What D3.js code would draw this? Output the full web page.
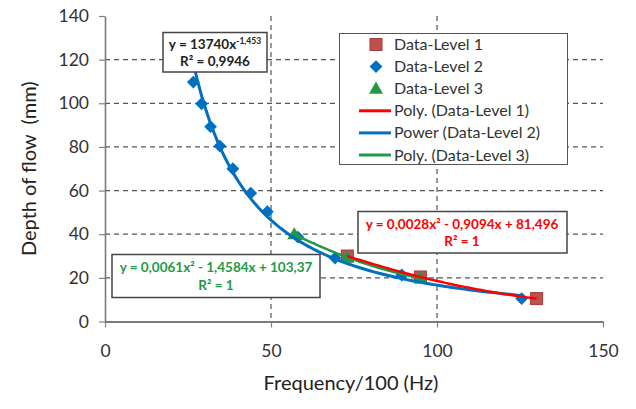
<!DOCTYPE html>
<html lang="en">
<head>
    <meta charset="UTF-8">
    <title>Depth of flow vs frequency</title>
    <style>
        body {
            margin: 0;
            background-color: white;
        }
        svg text {
            font-family: Lato, "Open Sans", sans-serif;
        }
    </style>
    <script src="https://d3js.org/d3.v7.min.js"></script>
</head>
<body>
    <svg id="chart" width="636" height="409"></svg>

    <script>
        // values
        const level1X = [73, 95, 130];
        const level1Y = [30, 20.4, 10.5];
        const level2X = [26.6, 29.1, 31.8, 34.6, 38.5, 43.9, 48.9, 58.1, 69.3, 89.4, 125.5];
        const level2Y = [109.7, 99.8, 89.3, 80.4, 70.0, 58.8, 50.3, 38.7, 29.1, 21.3, 10.5];
        const level3X = [57, 73, 95];
        const level3Y = [40, 29.4, 19.9];

        const xTicks = [0, 50, 100, 150];
        const yTicks = [0, 20, 40, 60, 80, 100, 120, 140];

        const legendLabels = ["Data-Level 1", "Data-Level 2", "Data-Level 3",
                              "Poly. (Data-Level 1)", "Power (Data-Level 2)", "Poly. (Data-Level 3)"];
        const eq1Lines = ["y = 0,0028x² - 0,9094x + 81,496", "R² = 1"];
        const eq2Base = "y = 13740x";
        const eq2Exp = "-1,453";
        const eq2R2 = "R² = 0,9946";
        const eq3Lines = ["y = 0,0061x² - 1,4584x + 103,37", "R² = 1"];

        const red = "#c0504d", blue = "#0070c0", green = "#1f9a48";

        const svg = d3.select("#chart");
        const plot = { left: 105, right: 603, top: 16, bottom: 321.5 };

        const x = d3.scaleLinear().domain([0, 150]).range([plot.left, plot.right]);
        const y = d3.scaleLinear().domain([0, 140]).range([plot.bottom, plot.top]);

        const zip = (xs, ys) => xs.map((v, i) => ({ x: v, y: ys[i] }));
        const pts1 = zip(level1X, level1Y);
        const pts2 = zip(level2X, level2Y);
        const pts3 = zip(level3X, level3Y);

        // trendlines: least squares fits of the data, like the spreadsheet does
        function polyFit(pts) {
            const s = [0, 0, 0, 0, 0], t = [0, 0, 0];
            pts.forEach(p => {
                for (let k = 0; k < 5; k++) s[k] += Math.pow(p.x, k);
                for (let k = 0; k < 3; k++) t[k] += Math.pow(p.x, k) * p.y;
            });
            const m = [[s[0], s[1], s[2], t[0]], [s[1], s[2], s[3], t[1]], [s[2], s[3], s[4], t[2]]];
            for (let i = 0; i < 3; i++) {
                for (let j = i + 1; j < 3; j++) {
                    const f = m[j][i] / m[i][i];
                    for (let k = i; k < 4; k++) m[j][k] -= f * m[i][k];
                }
            }
            const c = [0, 0, 0];
            for (let i = 2; i >= 0; i--) {
                let v = m[i][3];
                for (let k = i + 1; k < 3; k++) v -= m[i][k] * c[k];
                c[i] = v / m[i][i];
            }
            return v => c[0] + c[1] * v + c[2] * v * v;
        }

        function powerFit(pts) {
            const lx = pts.map(p => Math.log(p.x)), ly = pts.map(p => Math.log(p.y));
            const mx = d3.mean(lx), my = d3.mean(ly);
            const b = d3.sum(lx, (v, i) => (v - mx) * (ly[i] - my)) / d3.sum(lx, v => (v - mx) * (v - mx));
            const a = Math.exp(my - b * mx);
            return v => a * Math.pow(v, b);
        }

        function trend(pts, f) {
            const [lo, hi] = d3.extent(pts, p => p.x);
            return d3.range(0, 81).map(i => {
                const v = lo + (hi - lo) * i / 80;
                return { x: v, y: f(v) };
            });
        }

        // gridlines
        const grid = svg.append("g")
            .attr("stroke", "#555")
            .attr("stroke-width", 1.2)
            .attr("stroke-dasharray", "5,4");
        grid.selectAll("line.h")
            .data(yTicks.filter(d => d > 0 && d < 140))
            .enter().append("line")
            .attr("x1", plot.left).attr("x2", plot.right)
            .attr("y1", d => y(d)).attr("y2", d => y(d));
        grid.selectAll("line.v")
            .data(xTicks.filter(d => d > 0 && d < 150))
            .enter().append("line")
            .attr("x1", d => x(d)).attr("x2", d => x(d))
            .attr("y1", plot.top).attr("y2", plot.bottom);

        // axes
        const xAxis = svg.append("g")
            .attr("transform", `translate(0,${plot.bottom})`)
            .call(d3.axisBottom(x).tickValues(xTicks).tickSize(6).tickPadding(17).tickSizeOuter(0));
        const yAxis = svg.append("g")
            .attr("transform", `translate(${plot.left},0)`)
            .call(d3.axisLeft(y).tickValues(yTicks).tickSize(6).tickPadding(10).tickSizeOuter(0));

        [xAxis, yAxis].forEach(a => {
            a.selectAll("text").attr("font-size", 17.5).attr("fill", "#333")
                .style("font-family", "Lato, 'Open Sans', sans-serif");
            a.selectAll("line").attr("stroke", "#808080").attr("stroke-width", 1.2);
        });
        xAxis.select(".domain").attr("stroke", "#7a7a7a").attr("stroke-width", 2.2);
        yAxis.select(".domain").attr("stroke", "#7a7a7a").attr("stroke-width", 1.6);

        svg.append("text")
            .attr("x", (plot.left + plot.right) / 2 - 3)
            .attr("y", 390)
            .attr("text-anchor", "middle")
            .attr("font-size", 20)
            .attr("fill", "#222")
            .text("Frequency/100 (Hz)");

        svg.append("text")
            .attr("transform", `translate(36,${(plot.top + plot.bottom) / 2}) rotate(-90)`)
            .attr("text-anchor", "middle")
            .attr("font-size", 20)
            .attr("fill", "#222")
            .style("white-space", "pre")
            .text("Depth of flow  (mm)");

        // markers
        const diamond = d3.symbol().type(d3.symbolDiamond2).size(105);
        const triangle = d3.symbol().type(d3.symbolTriangle).size(85);

        svg.append("g").selectAll("path")
            .data(pts2).enter().append("path")
            .attr("d", diamond)
            .attr("transform", d => `translate(${x(d.x)},${y(d.y)})`)
            .attr("fill", blue);

        svg.append("g").selectAll("rect")
            .data(pts1).enter().append("rect")
            .attr("x", d => x(d.x) - 6).attr("y", d => y(d.y) - 6)
            .attr("width", 12).attr("height", 12)
            .attr("fill", red).attr("stroke", "#a33d3a").attr("stroke-width", 1);

        svg.append("g").selectAll("path")
            .data(pts3).enter().append("path")
            .attr("d", triangle)
            .attr("transform", d => `translate(${x(d.x)},${y(d.y) + 1})`)
            .attr("fill", green);

        // trendlines
        const line = d3.line().x(d => x(d.x)).y(d => y(d.y));
        svg.append("path").datum(trend(pts2, powerFit(pts2)))
            .attr("d", line).attr("fill", "none").attr("stroke", blue).attr("stroke-width", 3);
        svg.append("path").datum(trend(pts3, polyFit(pts3)))
            .attr("d", line).attr("fill", "none").attr("stroke", green).attr("stroke-width", 2.5);
        svg.append("path").datum(trend(pts1, polyFit(pts1)))
            .attr("d", line).attr("fill", "none").attr("stroke", "#ff0000").attr("stroke-width", 2.5);

        // legend
        const legend = svg.append("g");
        legend.append("rect")
            .attr("x", 339.5).attr("y", 33.5).attr("width", 228).attr("height", 131)
            .attr("fill", "white").attr("stroke", "#555").attr("stroke-width", 1);
        const ly = i => 44.5 + i * 22.1;
        legend.append("rect").attr("x", 370).attr("y", ly(0) - 6).attr("width", 12).attr("height", 12)
            .attr("fill", red).attr("stroke", "#a33d3a");
        legend.append("path").attr("d", diamond).attr("transform", `translate(376,${ly(1)})`).attr("fill", blue);
        legend.append("path").attr("d", triangle).attr("transform", `translate(376,${ly(2) + 1})`).attr("fill", green);
        [["#ff0000", 3], [blue, 4], [green, 5]].forEach(([c, i]) => {
            legend.append("line")
                .attr("x1", 359).attr("x2", 391).attr("y1", ly(i)).attr("y2", ly(i))
                .attr("stroke", c).attr("stroke-width", 3);
        });
        legend.selectAll("text")
            .data(legendLabels).enter().append("text")
            .attr("x", 394).attr("y", (d, i) => ly(i) + 5.5)
            .attr("font-size", 16).attr("fill", "#333")
            .text(d => d);

        // equation boxes
        function box(x0, y0, w, h) {
            svg.append("rect").attr("x", x0).attr("y", y0).attr("width", w).attr("height", h)
                .attr("fill", "white").attr("stroke", "#444").attr("stroke-width", 1.5);
        }

        box(163, 32.5, 104, 39.5);
        const t2 = svg.append("text").attr("x", 215).attr("y", 48.5).attr("text-anchor", "middle")
            .attr("font-size", 13.5).attr("font-weight", "bold").attr("fill", "#222");
        t2.append("tspan").text(eq2Base);
        t2.append("tspan").attr("dy", -5).attr("font-size", 8.5).text(eq2Exp);
        svg.append("text").attr("x", 215).attr("y", 65.5).attr("text-anchor", "middle")
            .attr("font-size", 13.5).attr("font-weight", "bold").attr("fill", "#222").text(eq2R2);

        box(358, 211.5, 209, 41.5);
        svg.selectAll("text.eq1").data(eq1Lines).enter().append("text")
            .attr("x", 462).attr("y", (d, i) => 229 + i * 17).attr("text-anchor", "middle")
            .attr("font-size", 13.5).attr("font-weight", "bold").attr("fill", "#ff0000").text(d => d);

        box(112, 254.5, 208, 43);
        svg.selectAll("text.eq3").data(eq3Lines).enter().append("text")
            .attr("x", 216).attr("y", (d, i) => 272 + i * 17.5).attr("text-anchor", "middle")
            .attr("font-size", 13.5).attr("font-weight", "bold").attr("fill", green).text(d => d);
    </script>
</body>
</html>
